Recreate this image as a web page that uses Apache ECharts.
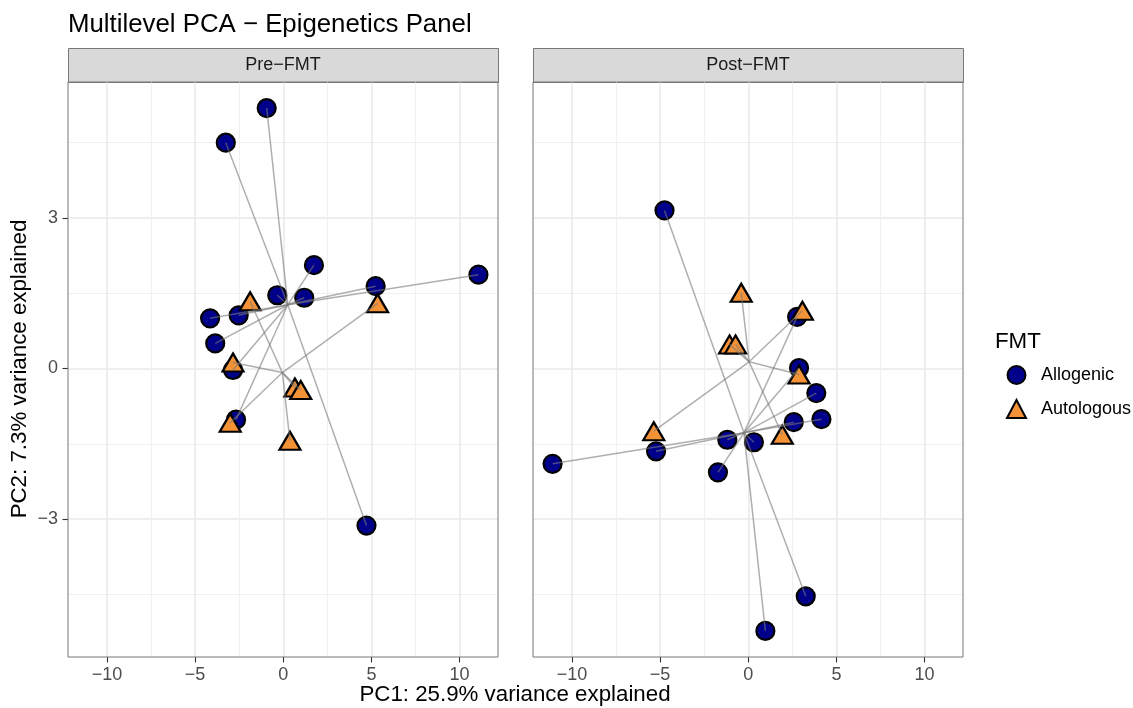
<!DOCTYPE html>
<html>
<head>
<meta charset="utf-8">
<script src="https://cdn.jsdelivr.net/npm/echarts@6/dist/echarts.min.js"></script>
<style>
html,body{margin:0;padding:0;background:#fff;}
#chart{width:1133px;height:708px;}
</style>
</head>
<body>
<div id="chart"></div>
<script>
// ---- data ----
const panels = ['Pre\u2212FMT', 'Post\u2212FMT'];
const groups = ['Allogenic', 'Autologous'];

const preAllogenic = [
  [-0.94, 5.19], [-3.26, 4.50], [1.74, 2.06], [-0.34, 1.46], [1.19, 1.41],
  [5.24, 1.64], [11.07, 1.87], [-4.15, 1.00], [-2.53, 1.06], [-3.86, 0.50],
  [-2.85, -0.03], [-2.68, -1.02], [4.72, -3.13]
];
const preAutologous = [
  [-1.88, 1.34], [5.35, 1.30], [-2.85, 0.12], [0.66, -0.38], [0.99, -0.43],
  [-3.01, -1.08], [0.38, -1.44]
];
const postAllogenic = [
  [-4.75, 3.15], [2.77, 1.03], [2.88, 0.01], [3.86, -0.49], [4.15, -1.01],
  [2.58, -1.07], [-1.19, -1.42], [0.32, -1.47], [-5.23, -1.65], [-11.10, -1.90],
  [-1.72, -2.07], [3.26, -4.54], [0.97, -5.23]
];
const postAutologous = [
  [-0.40, 1.51], [3.07, 1.15], [-1.06, 0.48], [-0.72, 0.48], [2.88, -0.12],
  [1.93, -1.32], [-5.36, -1.25]
];

const xMajorTicks = [-10, -5, 0, 5, 10];
const xMinorTicks = [-7.5, -2.5, 2.5, 7.5];
const yMajorTicks = [-3, 0, 3];
const yMinorTicks = [-4.5, -1.5, 1.5, 4.5];
const xRange = [-12.21, 12.18];
const yRange = [-5.75, 5.71];

const titleText = 'Multilevel PCA \u2212 Epigenetics Panel';
const xTitle = 'PC1: 25.9% variance explained';
const yTitle = 'PC2: 7.3% variance explained';
const legendTitle = 'FMT';

// ---- helpers ----
const FONT = 'Liberation Sans, Arial, Helvetica, sans-serif';
const fmt = v => String(v).replace('-', '\u2212');
function centroid(pts) {
  let sx = 0, sy = 0;
  pts.forEach(p => { sx += p[0]; sy += p[1]; });
  return [sx / pts.length, sy / pts.length];
}
function spokes(pts) {
  const c = centroid(pts);
  return pts.map(p => ({ coords: [p, c] }));
}

const gridDefs = [
  { left: 68, top: 82, width: 430, height: 575 },
  { left: 533, top: 82, width: 430, height: 575 }
];

const xAxes = [], yAxes = [];
gridDefs.forEach((g, i) => {
  xAxes.push({
    type: 'value', gridIndex: i, min: xRange[0], max: xRange[1], position: 'bottom',
    axisLine: { show: false, onZero: false },
    axisTick: { show: true, customValues: xMajorTicks, length: 5.5, lineStyle: { color: '#333333', width: 1.1 } },
    axisLabel: { show: true, customValues: xMajorTicks, formatter: fmt, color: '#4D4D4D', fontSize: 18, fontFamily: FONT, margin: 9 },
    splitLine: { show: true, lineStyle: { color: '#E8E8E8', width: 1.5 } }
  });
  xAxes.push({
    type: 'value', gridIndex: i, min: xRange[0], max: xRange[1], position: 'bottom',
    axisLine: { show: false, onZero: false },
    axisTick: { show: false, customValues: xMinorTicks },
    axisLabel: { show: false, customValues: xMinorTicks },
    splitLine: { show: true, lineStyle: { color: '#F0F0F0', width: 1 } }
  });
  yAxes.push({
    type: 'value', gridIndex: i, min: yRange[0], max: yRange[1], position: 'left',
    axisLine: { show: false, onZero: false },
    axisTick: { show: i === 0, customValues: yMajorTicks, length: 5.5, lineStyle: { color: '#333333', width: 1.1 } },
    axisLabel: { show: i === 0, customValues: yMajorTicks, formatter: fmt, color: '#4D4D4D', fontSize: 18, fontFamily: FONT, margin: 10 },
    splitLine: { show: true, lineStyle: { color: '#E8E8E8', width: 1.5 } }
  });
  yAxes.push({
    type: 'value', gridIndex: i, min: yRange[0], max: yRange[1], position: 'left',
    axisLine: { show: false, onZero: false },
    axisTick: { show: false, customValues: yMinorTicks },
    axisLabel: { show: false, customValues: yMinorTicks },
    splitLine: { show: true, lineStyle: { color: '#F0F0F0', width: 1 } }
  });
});

const panelData = [
  { allo: preAllogenic, auto: preAutologous },
  { allo: postAllogenic, auto: postAutologous }
];

const series = [];
panelData.forEach((pd, i) => {
  const xi = i * 2, yi = i * 2;
  series.push({
    type: 'scatter', name: groups[0], xAxisIndex: xi, yAxisIndex: yi,
    data: pd.allo, symbol: 'circle', symbolSize: 18, z: 3,
    itemStyle: { color: '#00008B', borderColor: '#000000', borderWidth: 2.2, opacity: 1 },
    emphasis: { disabled: true }, silent: true
  });
  series.push({
    type: 'scatter', name: groups[1], xAxisIndex: xi, yAxisIndex: yi,
    data: pd.auto, symbol: 'triangle', symbolSize: [21, 18], z: 4,
    itemStyle: { color: '#F39237', borderColor: '#000000', borderWidth: 2.2, opacity: 1 },
    emphasis: { disabled: true }, silent: true
  });
  series.push({
    type: 'lines', coordinateSystem: 'cartesian2d', xAxisIndex: xi, yAxisIndex: yi,
    data: spokes(pd.allo).concat(spokes(pd.auto)), z: 5, silent: true,
    lineStyle: { color: '#7A7A7A', width: 1.5, opacity: 0.6 }
  });
});

const graphics = [];
gridDefs.forEach((g, i) => {
  graphics.push({
    type: 'rect', left: g.left, top: 48, silent: true,
    shape: { width: g.width, height: 34 },
    style: { fill: '#D9D9D9', stroke: '#777777', lineWidth: 1 }
  });
  graphics.push({
    type: 'text', silent: true,
    style: { text: panels[i], x: g.left + g.width / 2, y: 65, textAlign: 'center', textVerticalAlign: 'middle',
      fill: '#1A1A1A', fontSize: 18, fontFamily: FONT }
  });
});
graphics.push({
  type: 'text', silent: true,
  style: { text: xTitle, x: 515, y: 695, textAlign: 'center', textVerticalAlign: 'middle', fill: '#000', fontSize: 22.3, fontFamily: FONT }
});
graphics.push({
  type: 'text', silent: true, x: 20, y: 369, rotation: Math.PI / 2,
  style: { text: yTitle, x: 0, y: 0, textAlign: 'center', textVerticalAlign: 'middle', fill: '#000', fontSize: 22.3, fontFamily: FONT }
});
graphics.push({
  type: 'text', silent: true,
  style: { text: legendTitle, x: 995, y: 342, textAlign: 'left', textVerticalAlign: 'middle', fill: '#000', fontSize: 22.3, fontFamily: FONT }
});

const chart = echarts.init(document.getElementById('chart'), null, { renderer: 'canvas' });
chart.setOption({
  backgroundColor: '#ffffff',
  animation: false,
  title: {
    text: titleText, left: 63, top: 7,
    textStyle: { fontSize: 25.8, fontWeight: 'normal', color: '#000', fontFamily: FONT }
  },
  grid: gridDefs.map(g => Object.assign({ show: true, borderColor: '#777777', borderWidth: 1, backgroundColor: 'transparent', z: 10 }, g)),
  xAxis: xAxes,
  yAxis: yAxes,
  legend: {
    data: groups, orient: 'vertical', left: 1001, top: 360,
    itemWidth: 19, itemHeight: 18, itemGap: 14,
    textStyle: { fontSize: 18, color: '#000', fontFamily: FONT, padding: [0, 0, 0, 10] },
    selectedMode: false
  },
  graphic: graphics,
  series: series
});
</script>
</body>
</html>
